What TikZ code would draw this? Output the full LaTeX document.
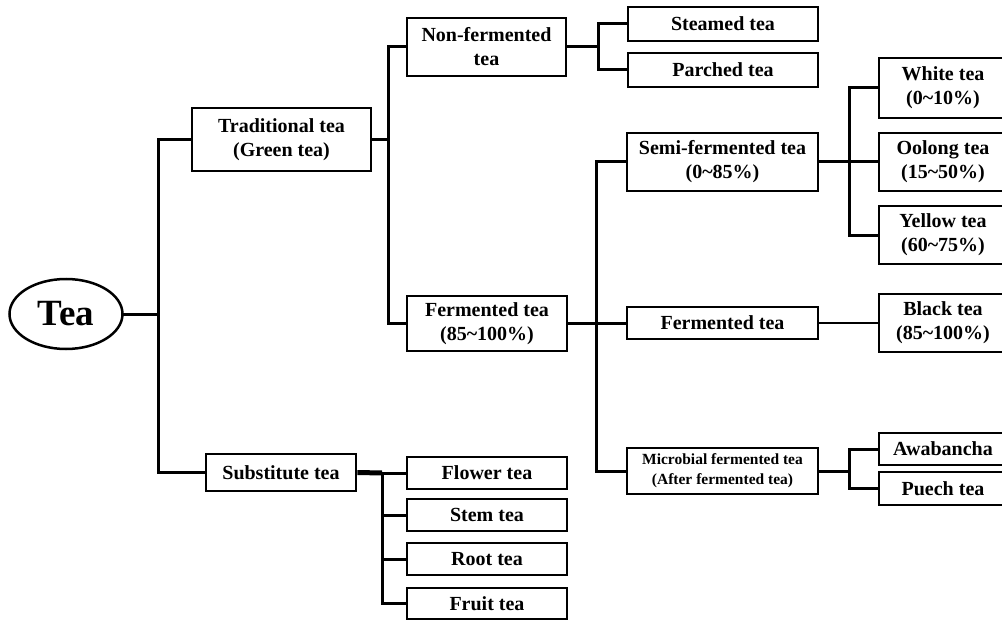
\documentclass[tikz,border=0pt]{standalone}
\usepackage{fontspec}
\setmainfont{Liberation Serif}
\usetikzlibrary{shapes.geometric}
\newcommand{\tld}{\textasciitilde}

\begin{document}
\begin{tikzpicture}[x=1pt, y=-1pt, line width=3pt,
  every node/.style={font=\bfseries\fontsize{20}{24}\selectfont, align=center, inner sep=0pt},
  box/.style={draw, rectangle, line width=2.8pt},
  link/.style={line width=3pt, line cap=rect}]
\useasboundingbox (0,0) rectangle (1002,623);

% root
\node [draw, ellipse, line width=2.5pt, minimum width=113, minimum height=70, font=\bfseries\fontsize{37}{40}\selectfont] (tea) at (66,314) {Tea};

% first level
\node [box, minimum width=179, minimum height=63] (trad) at (281.5,139.5) {Traditional tea\\(Green tea)};
\node [box, minimum width=150, minimum height=37] (subst) at (281,472.5) {Substitute tea};

% second level
\node [box, minimum width=159, minimum height=58] (nonferm) at (486.5,47) {Non-fermented\\tea};
\node [box, minimum width=160, minimum height=55] (ferm) at (487,323.5) {Fermented tea\\(85\tld100\%)};

\node [box, minimum width=160, minimum height=32] (flower) at (487,473) {Flower tea};
\node [box, minimum width=160, minimum height=32] (stem) at (487,515) {Stem tea};
\node [box, minimum width=160, minimum height=32] (root) at (487,559) {Root tea};
\node [box, minimum width=160, minimum height=31] (fruit) at (487,603.5) {Fruit tea};

% third level
\node [box, minimum width=190, minimum height=34] (steamed) at (723,24) {Steamed tea};
\node [box, minimum width=190, minimum height=34] (parched) at (723,70) {Parched tea};

\node [box, minimum width=191, minimum height=58] (semi) at (722.5,162) {Semi-fermented tea\\(0\tld85\%)};
\node [box, minimum width=191, minimum height=32] (fermmid) at (722.5,323) {Fermented tea};
\node [box, minimum width=191, minimum height=46, font=\bfseries\fontsize{15.5}{20}\selectfont] (micro) at (722.5,471) {Microbial fermented tea\\(After fermented tea)};

% fourth level
\node [box, minimum width=128, minimum height=60] (white) at (943,88) {White tea\\(0\tld10\%)};
\node [box, minimum width=128, minimum height=58] (oolong) at (943,162) {Oolong tea\\(15\tld50\%)};
\node [box, minimum width=128, minimum height=58] (yellow) at (943,235) {Yellow tea\\(60\tld75\%)};
\node [box, minimum width=128, minimum height=58] (black) at (943,323) {Black tea\\(85\tld100\%)};
\node [box, minimum width=128, minimum height=32] (awa) at (943,449) {Awabancha};
\node [box, minimum width=128, minimum height=33] (puech) at (943,488.5) {Puech tea};

% junctions
\coordinate (jtea) at (158,314);
\coordinate (jtrad) at (388,139.5);
\coordinate (jsubst) at (382,473);
\coordinate (jnon) at (598,47);
\coordinate (jferm) at (596,323.5);
\coordinate (jsemi) at (849,162);
\coordinate (jmicro) at (849,471);

% connectors
\draw [link] (tea.east) -- (jtea);
\draw [link] (jtea) |- (trad.west);
\draw [link] (jtea) |- (subst.west);

\draw [link] (trad.east) -- (jtrad);
\draw [link] (jtrad) |- (nonferm.west);
\draw [link] (jtrad) |- (ferm.west);

\draw [line width=5pt] (subst.east) -- (jsubst);
\draw [link] (jsubst) |- (flower.west);
\draw [link] (jsubst) |- (stem.west);
\draw [link] (jsubst) |- (root.west);
\draw [link] (jsubst) |- (fruit.west);

\draw [link] (nonferm.east) -- (jnon);
\draw [link] (jnon) |- (steamed.west);
\draw [link] (jnon) |- (parched.west);

\draw [link] (ferm.east) -- (jferm);
\draw [link] (jferm) |- (semi.west);
\draw [link] (jferm) |- (fermmid.west);
\draw [link] (jferm) |- (micro.west);

\draw [link] (semi.east) -- (jsemi);
\draw [link] (jsemi) |- (white.west);
\draw [link] (jsemi) |- (oolong.west);
\draw [link] (jsemi) |- (yellow.west);

\draw [line width=2.2pt] (fermmid.east) -- (black.west);

\draw [link] (micro.east) -- (jmicro);
\draw [link] (jmicro) |- (awa.west);
\draw [link] (jmicro) |- (puech.west);

\end{tikzpicture}
\end{document}
